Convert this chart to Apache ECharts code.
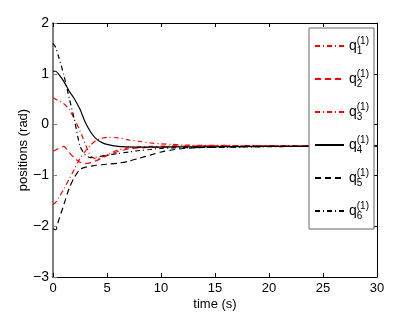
<!DOCTYPE html>
<html>
<head>
<meta charset="utf-8">
<script src="https://cdn.jsdelivr.net/npm/echarts@6/dist/echarts.min.js"></script>
<style>html,body{margin:0;padding:0;background:#fff;}#c{width:415px;height:312px;}</style>
</head>
<body>
<div id="c"></div>
<script>
var times = [0,0.25,0.5,1,1.5,2,2.5,3,3.5,4,4.5,5,6,7,8,9,10,11,12,14,16,18,20,25,30];
var q1 = [0.53,0.5,0.47,0.41,0.3,0.1,-0.12,-0.39,-0.62,-0.67,-0.64,-0.6,-0.5,-0.46,-0.44,-0.43,-0.425,-0.42,-0.42,-0.415,-0.415,-0.415,-0.42,-0.42,-0.42];
var q2 = [-0.52,-0.5,-0.47,-0.43,-0.55,-0.66,-0.74,-0.77,-0.75,-0.71,-0.66,-0.61,-0.53,-0.48,-0.46,-0.45,-0.44,-0.43,-0.43,-0.42,-0.42,-0.42,-0.42,-0.42,-0.42];
var q3 = [-1.57,-1.53,-1.45,-1.27,-1.07,-0.87,-0.67,-0.52,-0.4,-0.31,-0.27,-0.25,-0.26,-0.3,-0.33,-0.36,-0.38,-0.39,-0.4,-0.41,-0.41,-0.415,-0.42,-0.42,-0.42];
var q4 = [1.05,1.05,1.0,0.85,0.66,0.5,0.3,0.04,-0.15,-0.28,-0.35,-0.39,-0.43,-0.44,-0.445,-0.445,-0.445,-0.44,-0.44,-0.44,-0.435,-0.43,-0.43,-0.425,-0.42];
var q5 = [-2.05,-2.07,-1.9,-1.58,-1.25,-1.03,-0.88,-0.84,-0.82,-0.8,-0.79,-0.78,-0.76,-0.72,-0.66,-0.6,-0.54,-0.5,-0.47,-0.45,-0.44,-0.435,-0.43,-0.425,-0.42];
var q6 = [1.6,1.52,1.35,0.98,0.52,0.08,-0.42,-0.6,-0.65,-0.64,-0.62,-0.6,-0.57,-0.54,-0.51,-0.49,-0.47,-0.46,-0.455,-0.45,-0.445,-0.44,-0.435,-0.425,-0.42];
var seriesNames = ['q1','q2','q3','q4','q5','q6'];
var xTicks = [0,5,10,15,20,25,30];
var yTicks = [-3,-2,-1,0,1,2];

function pairs(arr){ return times.map(function(t,i){ return [t, arr[i]]; }); }
var dashDot = [5,3,1,3];
var dashed = [6,4];
var styles = [
  {color:'#ff0000', type: dashDot},
  {color:'#ff0000', type: dashed},
  {color:'#ff0000', type: dashDot},
  {color:'#000000', type: 'solid'},
  {color:'#000000', type: dashed},
  {color:'#000000', type: dashDot}
];
var allData = [q1,q2,q3,q4,q5,q6];
var FONT = 'Liberation Sans';
function minus(v){ return String(v).replace('-', '\u2212'); }

var chart = echarts.init(document.getElementById('c'), null, {renderer:'canvas'});
chart.setOption({
  animation: false,
  backgroundColor: '#fff',
  grid: {left: 53, right: 38, top: 23, bottom: 35, containLabel: false, outerBoundsMode: 'none'},
  xAxis: [{
    type: 'value', min: 0, max: 30, interval: 5, position: 'bottom',
    name: 'time (s)', nameLocation: 'middle', nameGap: 21, nameMoveOverlap: false,
    nameTextStyle: {fontFamily: FONT, fontSize: 13, color: '#000'},
    axisLine: {show: true, onZero: false, lineStyle: {color: '#000', width: 1}},
    axisTick: {show: true, inside: true, length: 4, lineStyle: {color: '#000'}},
    axisLabel: {fontFamily: FONT, fontSize: 13, color: '#000', margin: 5},
    splitLine: {show: false}
  },{
    type: 'value', min: 0, max: 30, interval: 5, position: 'top',
    axisLine: {show: true, onZero: false, lineStyle: {color: '#000', width: 1}},
    axisTick: {show: true, inside: true, length: 4, lineStyle: {color: '#000'}},
    axisLabel: {show: false}, splitLine: {show: false}
  }],
  yAxis: [{
    type: 'value', min: -3, max: 2, interval: 1, position: 'left',
    name: 'positions (rad)', nameLocation: 'middle', nameGap: 23, nameRotate: 90, nameMoveOverlap: false,
    nameTextStyle: {fontFamily: FONT, fontSize: 13, color: '#000'},
    axisLine: {show: true, onZero: false, lineStyle: {color: '#808080', width: 2}},
    axisTick: {show: true, inside: true, length: 4, lineStyle: {color: '#808080'}},
    axisLabel: {fontFamily: FONT, fontSize: 14, color: '#000', margin: 4, formatter: function(v){ return minus(v); }},
    splitLine: {show: false}
  },{
    type: 'value', min: -3, max: 2, interval: 1, position: 'right',
    axisLine: {show: true, onZero: false, lineStyle: {color: '#000', width: 1}},
    axisTick: {show: true, inside: true, length: 4, lineStyle: {color: '#000'}},
    axisLabel: {show: false}, splitLine: {show: false}
  }],
  legend: {
    orient: 'vertical', left: 309, top: 28,
    padding: [8, 5, 8, 5],
    itemWidth: 29, itemHeight: 14, itemGap: 13,
    backgroundColor: '#fff', borderColor: '#666', borderWidth: 1,
    itemStyle: {opacity: 0},
    data: seriesNames,
    formatter: function(name){ return '{q|q}{sub|' + name.slice(1) + '}{sup|(1)}'; },
    textStyle: {
      fontFamily: FONT, color: '#000', padding: [0, 2, 0, 0],
      rich: {
        q: {fontFamily: FONT, fontSize: 14, color: '#000', padding: [0,0,0,0]},
        sub: {fontFamily: FONT, fontSize: 10, color: '#000', width: 0, padding: [10,0,0,0]},
        sup: {fontFamily: FONT, fontSize: 10, color: '#000', padding: [0,0,10,0]}
      }
    }
  },
  series: allData.map(function(arr, i){
    return {
      name: seriesNames[i], type: 'line', data: pairs(arr),
      xAxisIndex: 0, yAxisIndex: 0,
      symbol: 'none', showSymbol: false, smooth: 0.25,
      lineStyle: {color: styles[i].color, type: styles[i].type, width: 1.2},
      itemStyle: {color: styles[i].color},
      z: 2
    };
  })
});
</script>
</body>
</html>
